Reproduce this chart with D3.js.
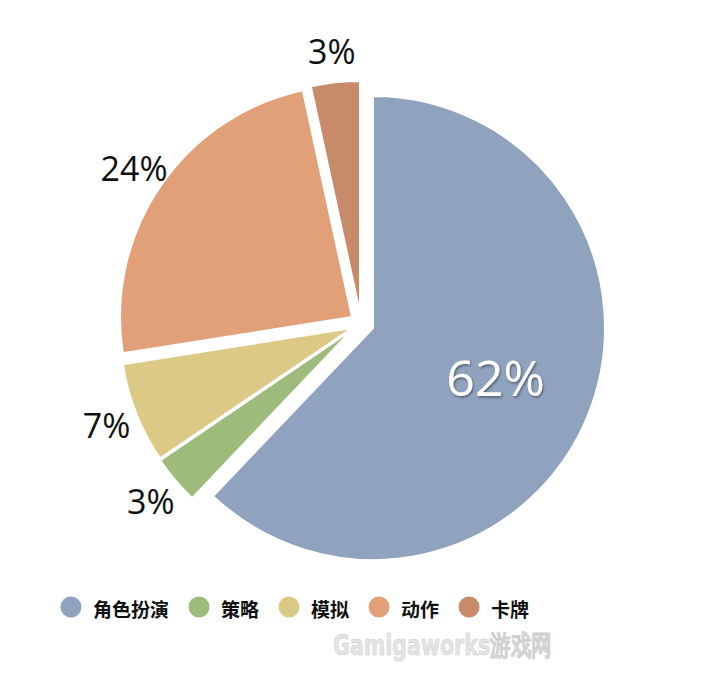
<!DOCTYPE html>
<html><head><meta charset="utf-8">
<script src="https://cdn.jsdelivr.net/npm/d3@7"></script>
<style>html,body{margin:0;padding:0;background:#fff;}</style>
</head><body>
<svg id="chart" width="709" height="682"></svg>
<script>
const categories = ["角色扮演", "策略", "模拟", "动作", "卡牌"];
const values = [62.1, 3.4, 7.0, 24.1, 3.4];
const labels = ["62%", "3%", "7%", "24%", "3%"];
const colors = ["#8FA3BF", "#9DBB7A", "#DCC985", "#E2A079", "#C88B69"];
// explosion offsets of each slice (layout)
const offsets = [[0,0],[-21,2],[-21,0],[-21,-11],[-13,-15]];

const svg = d3.select("#chart");
const cx = 373, cy = 328, r = 232;

const defs = svg.append("defs");
const f = defs.append("filter").attr("id","sh").attr("x","-20%").attr("y","-20%").attr("width","140%").attr("height","140%");
f.append("feDropShadow").attr("dx",1).attr("dy",1.5).attr("stdDeviation",1.2).attr("flood-color","#000").attr("flood-opacity",0.45);

const pie = d3.pie().sort(null).value(d => d);
const arcs = pie(values);
const arc = d3.arc().innerRadius(0).outerRadius(r);

const g = svg.append("g").attr("transform", `translate(${cx},${cy})`);
g.selectAll("path").data(arcs).join("path")
  .attr("transform", (d,i) => `translate(${offsets[i][0]},${offsets[i][1]})`)
  .attr("d", arc)
  .attr("fill", (d,i) => colors[i])
  .attr("stroke", "#fff").attr("stroke-width", 2).attr("stroke-linejoin","round");

const outerLabel = d3.arc().innerRadius(264).outerRadius(264);
const innerLabel = d3.arc().innerRadius(132).outerRadius(132);
g.selectAll("text.lbl").data(arcs).join("text")
  .attr("class","lbl")
  .attr("transform", (d,i) => {
    const c = (i === 0 ? innerLabel : outerLabel).centroid(d);
    return `translate(${c[0]+offsets[i][0]},${c[1]+offsets[i][1]})`;
  })
  .attr("text-anchor","middle").attr("dominant-baseline","central")
  .attr("font-family","'Open Sans', 'Noto Sans', sans-serif")
  .attr("font-size", (d,i) => i === 0 ? 50 : 34)
  .attr("fill", (d,i) => i === 0 ? "#fff" : "#111")
  .attr("filter", (d,i) => i === 0 ? "url(#sh)" : null)
  .text((d,i) => labels[i]);

// legend
const lg = svg.append("g").attr("transform","translate(61,607)");
let x = 0;
categories.forEach((c,i) => {
  const it = lg.append("g").attr("transform",`translate(${x},0)`);
  it.append("circle").attr("cx",10).attr("cy",0).attr("r",10.5).attr("fill",colors[i]);
  const t = it.append("text").attr("x",32).attr("y",1).attr("dominant-baseline","central")
    .attr("font-family","'Noto Sans CJK SC', sans-serif").attr("font-size",19).attr("font-weight",700)
    .attr("fill","#111").text(c);
  const w = t.node().getComputedTextLength();
  x += 32 + w + 20;
});

// watermark
svg.append("text").attr("x",333).attr("y",655)
  .attr("font-family","'DejaVu Sans', sans-serif").attr("font-size",28).attr("font-weight","bold")
  .attr("fill","#e4e4e4").attr("stroke","#d0d0d0").attr("stroke-width",0.6)
  .attr("textLength",219).attr("lengthAdjust","spacingAndGlyphs")
  .text("Gamigaworks游戏网");
</script>
</body></html>
